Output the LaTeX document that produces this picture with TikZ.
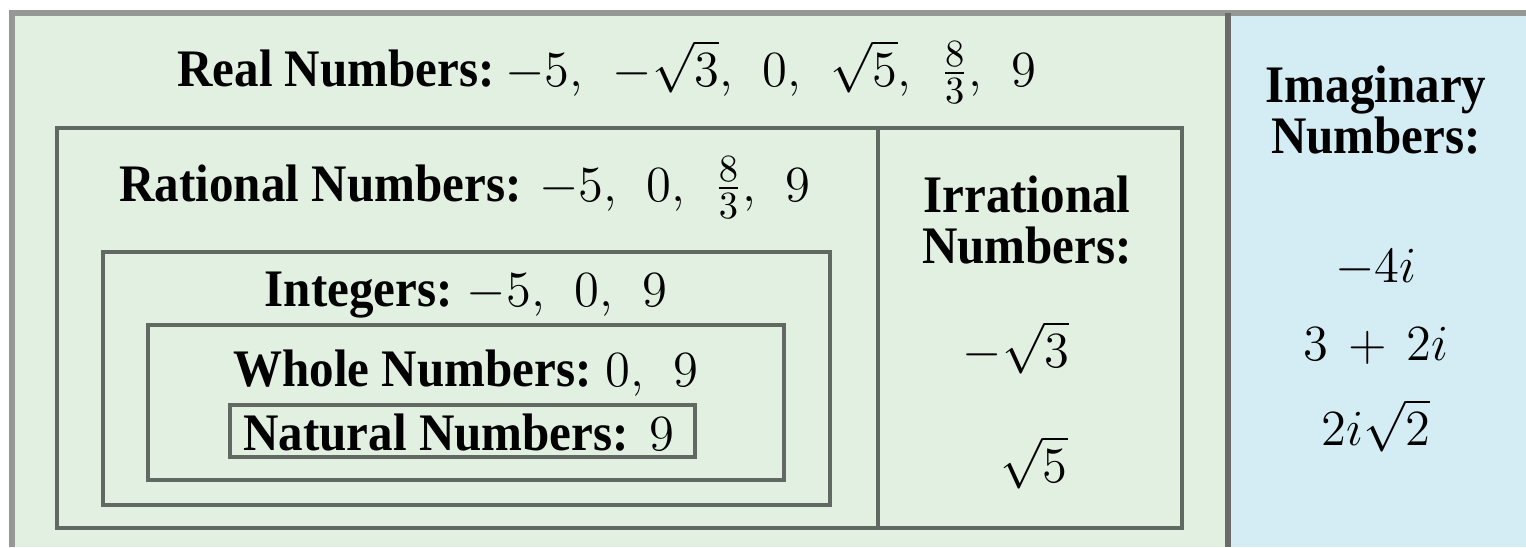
\documentclass[tikz,border=0pt]{standalone}
\usepackage{amsmath}
\usepackage[no-math]{fontspec}
\setmainfont{Liberation Serif}[FakeStretch=0.93]
\usetikzlibrary{positioning}
\definecolor{mint}{RGB}{226,240,226}
\definecolor{sky}{RGB}{212,236,244}
\definecolor{frame}{RGB}{150,152,150}
\definecolor{edge}{RGB}{98,104,98}
\newcommand{\sep}{,\hspace{6pt}}

\begin{document}
\begin{tikzpicture}[x=0.01cm,y=-0.01cm,font=\fontsize{15}{14.5}\selectfont]
    \useasboundingbox (0,0) rectangle (1526,547);
    \fill[white] (0,0) rectangle (1526,547);
    \fill[mint] (12,13) rectangle (1228,547);
    \fill[sky] (1228,13) rectangle (1526,547);
    \draw[frame,line width=1.5pt] (12,547) -- (12,13) -- (1526,13);
    \draw[frame!70!black,line width=1.5pt] (1228,13) -- (1228,547);
    % nested boxes
    \draw[edge,line width=1.2pt] (57,128) rectangle (1182,528);
    \draw[edge,line width=1.2pt] (878,128) -- (878,528);
    \draw[edge,line width=1.2pt] (103,252) rectangle (830,505);
    \draw[edge,line width=1.2pt] (148,325) rectangle (784,480);
    \draw[edge,line width=1pt] (230,405) rectangle (695,457);
    % labels
    \node[anchor=base] (real) at (607,86) {\textbf{Real Numbers:}\hspace{3pt}$-5\sep -\sqrt{3}\sep 0\sep \sqrt{5}\sep \tfrac{8}{3}\sep 9$};
    \node[anchor=base] (rational) at (465,201) {\textbf{Rational Numbers:}\hspace{5pt}$-5\sep 0\sep \tfrac{8}{3}\sep 9$};
    \node[anchor=base] (integers) at (466,306) {\textbf{Integers:}\hspace{4pt}$-5\sep 0\sep 9$};
    \node[anchor=base] (whole) at (466,386) {\textbf{Whole Numbers:}\hspace{4pt}$0\sep 9$};
    \node[anchor=base] (natural) at (459,450) {\textbf{Natural Numbers:}\hspace{6pt}$9$};
    \node[anchor=base,align=center] (irrational) at (1027,263) {\textbf{Irrational}\\\textbf{Numbers:}};
    \node[anchor=base] (irr1) at (1016,367) {$-\sqrt{3}$};
    \node[anchor=base] (irr2) at (1034,482) {$\sqrt{5}$};
    \node[anchor=base,align=center] (imaginary) at (1376,153) {\textbf{Imaginary}\\\textbf{Numbers:}};
    \foreach \v/\y [count=\i] in {{-4i}/282, {3\,+\,2i}/360, {2i\sqrt{2}}/445}
    {
      \node[anchor=base] (im\i) at (1376,\y) {$\v$};
    }
  \end{tikzpicture}
\end{document}
